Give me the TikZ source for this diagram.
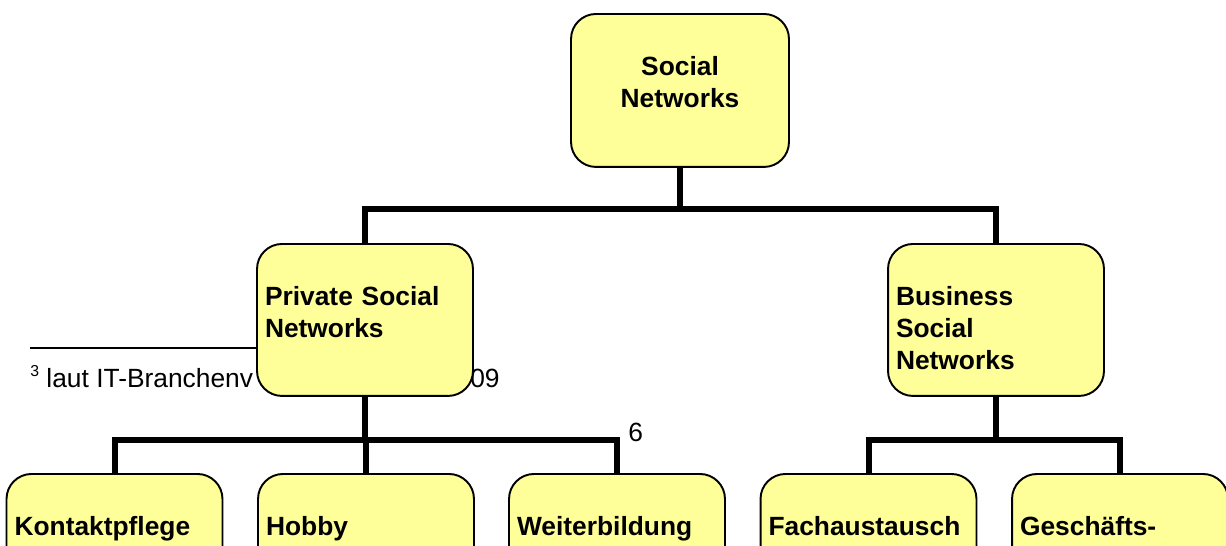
\documentclass[tikz,border=0pt]{standalone}
\usepackage{fontspec}
\setmainfont{Liberation Sans}
\usepackage{tikz}
\definecolor{boxyellow}{RGB}{255,255,153}

\begin{document}
\begin{tikzpicture}[x=0.02cm,y=-0.02cm,
  box/.style={draw,line width=1.1pt,fill=boxyellow,rounded corners=0.5cm,
    minimum width=4.32cm,text width=4cm,inner xsep=0.16cm,inner ysep=0pt,
    anchor=north,text height=1.24cm,text depth=1.8cm,
    font=\bfseries\fontsize{15}{18.2}\selectfont},
  leftbox/.style={box,align=left},
  conn/.style={line width=0.12cm},
  pagetext/.style={font=\fontsize{15}{18}\selectfont,inner sep=0pt}]
  \clip (0,0) rectangle (1226,545);
  % page footnote behind the chart
  \draw[line width=0.7pt] (30,348) -- (300,348);
  \node(fn)[pagetext,anchor=base west] at (30,387)
    {\raisebox{6pt}{\fontsize{9}{9}\selectfont 3}\ laut IT-Branchenv};
  \node(fnend)[pagetext,anchor=base east] at (500,387){009};
  \node(pg)[pagetext,anchor=base west] at (628,441){6};
  % boxes
  \node(sn)[box,align=center,minimum width=4.36cm,text depth=1.82cm] at (680,13){Social\\Networks};
  \node(psn)[leftbox] at (365,243){Private Social\\Networks};
  \node(bsn)[leftbox] at (996,243){Business\\Social\\Networks};
  \node(kp)[leftbox] at (114.5,473){Kontaktpflege};
  \node(hb)[leftbox] at (366,473){Hobby};
  \node(wb)[leftbox] at (617,473){Weiterbildung};
  \node(fa)[leftbox] at (868.5,473){Fachaustausch};
  \node(gk)[leftbox] at (1120,473){Geschäfts-};
  % connectors
  \coordinate(top) at (680,209);
  \coordinate(priv) at (367,440);
  \coordinate(bus) at (995,440);
  \draw[conn] (sn.south) -- (top);
  \draw[conn] (psn.north) |- (top) -| (bsn.north);
  \draw[conn] (psn.south) |- (priv);
  \draw[conn] (kp.north) |- (priv) -| (wb.north);
  \draw[conn] (hb.north) -- (hb.north |- priv);
  \draw[conn] (bsn.south) |- (bus);
  \draw[conn] (fa.north) |- (bus) -| (gk.north);
\end{tikzpicture}
\end{document}
